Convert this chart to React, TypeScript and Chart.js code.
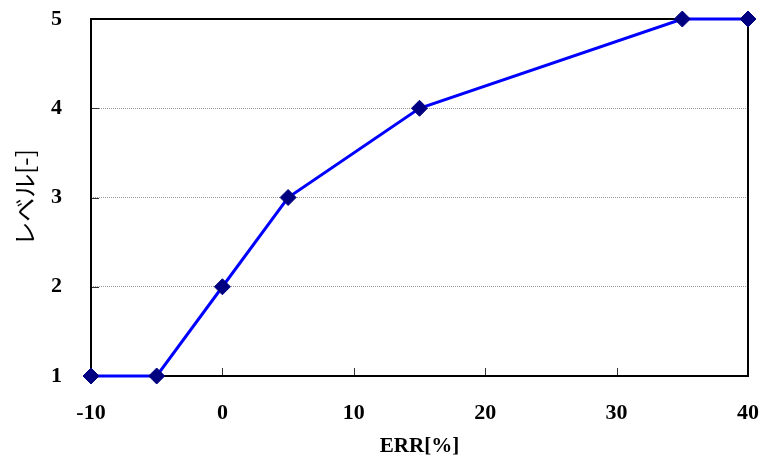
import React, { useEffect, useRef } from "react";
import { Chart, registerables } from "chart.js";

Chart.register(...registerables);

const xValues = [-10, -5, 0, 5, 15, 35, 40];
const levels = [1, 1, 2, 3, 4, 5, 5];
const xTicks = [-10, 0, 10, 20, 30, 40];
const yTicks = [1, 2, 3, 4, 5];
const xTitle = "ERR[%]";
const yTitle = "レベル[-]";

const serif = "'Liberation Serif', 'Times New Roman', serif";

const framePlugin = {
  id: "frame",
  beforeDatasetsDraw(chart: any) {
    const { ctx, chartArea, scales } = chart;
    const { left, right, top, bottom } = chartArea;
    ctx.save();
    ctx.strokeStyle = "#333";
    ctx.lineWidth = 1;
    ctx.beginPath();
    for (const v of xTicks) {
      const px = Math.round(scales.x.getPixelForValue(v)) + 0.5;
      ctx.moveTo(px, bottom);
      ctx.lineTo(px, bottom - 8);
    }
    for (const v of yTicks) {
      const py = Math.round(scales.y.getPixelForValue(v)) + 0.5;
      ctx.moveTo(left, py);
      ctx.lineTo(left + 8, py);
    }
    ctx.stroke();
    ctx.strokeStyle = "#000";
    ctx.lineWidth = 2;
    ctx.strokeRect(left, top, right - left, bottom - top);
    ctx.restore();
  },
};

export default function App() {
  const ref = useRef<HTMLCanvasElement | null>(null);
  useEffect(() => {
    if (!ref.current) return;
    const chart = new Chart(ref.current, {
      type: "scatter",
      data: {
        datasets: [
          {
            data: xValues.map((x, i) => ({ x, y: levels[i] })),
            showLine: true,
            borderColor: "#0000FF",
            borderWidth: 3,
            pointStyle: "rectRot",
            pointRadius: 8,
            pointBackgroundColor: "#000080",
            pointBorderColor: "#000080",
            pointBorderWidth: 1,
            tension: 0,
            clip: false as any,
          },
        ],
      },
      options: {
        animation: false,
        responsive: false,
        maintainAspectRatio: false,
        layout: { padding: { left: 0, top: 19, right: 14, bottom: 0 } },
        plugins: { legend: { display: false }, tooltip: { enabled: false } },
        scales: {
          x: {
            type: "linear",
            min: -10,
            max: 40,
            afterBuildTicks: (s: any) => {
              s.ticks = xTicks.map((v) => ({ value: v }));
            },
            afterFit: (s: any) => {
              s.height = 83;
              s.paddingLeft = 0;
              s.paddingRight = 0;
            },
            ticks: {
              color: "#000",
              font: { family: serif, size: 22, weight: "bold" },
              padding: 24,
              maxRotation: 0,
              callback: (v: any) => String(v),
            },
            grid: { display: false, drawTicks: false },
            border: { display: false },
            title: {
              display: true,
              text: xTitle,
              color: "#000",
              font: { family: serif, size: 21, weight: "bold" },
              padding: { top: 0, bottom: 0 },
            },
          },
          y: {
            type: "linear",
            min: 1,
            max: 5,
            afterBuildTicks: (s: any) => {
              s.ticks = yTicks.map((v) => ({ value: v }));
            },
            afterFit: (s: any) => {
              s.width = 91;
              s.paddingTop = 0;
              s.paddingBottom = 0;
            },
            ticks: {
              color: "#000",
              font: { family: serif, size: 22, weight: "bold" },
              padding: 29,
            },
            grid: {
              color: "#999",
              lineWidth: 1,
              drawTicks: false,
            },
            border: { display: false, dash: [1, 1] },
            title: {
              display: true,
              text: yTitle,
              color: "#000",
              font: { family: "'Noto Sans CJK JP', sans-serif", size: 24 },
              padding: { top: 10, bottom: 0 },
            },
          },
        },
      },
      plugins: [framePlugin],
    });
    return () => chart.destroy();
  }, []);
  return (
    <div style={{ position: "fixed", left: 0, top: 0, width: 762, height: 459, background: "#fff" }}>
      <canvas ref={ref} width={762} height={459} style={{ width: 762, height: 459, display: "block" }} />
    </div>
  );
}
